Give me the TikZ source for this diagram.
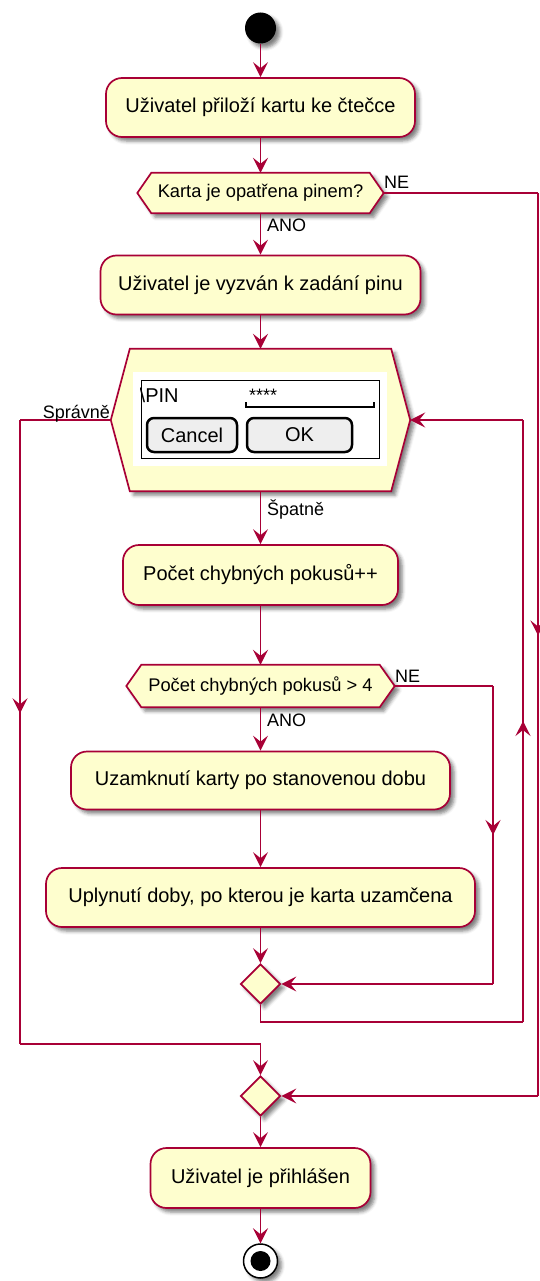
\documentclass[tikz,border=0pt]{standalone}
\usepackage{fontspec}
\setmainfont{Liberation Sans}
\usetikzlibrary{arrows.meta,shadows.blur,shapes.geometric,backgrounds,decorations.markings}
\definecolor{pborder}{HTML}{A80036}
\definecolor{pfill}{HTML}{FEFECE}
\definecolor{btngray}{HTML}{EEEEEE}
\tikzset{
  shad/.style={blur shadow={shadow xshift=4pt,shadow yshift=-4pt,shadow blur radius=3.5pt,shadow opacity=50}},
  act/.style={draw=pborder,fill=pfill,line width=1.7pt,rounded corners=16pt,inner sep=0pt,
    font=\fontsize{20}{24}\selectfont,shad},
  dec/.style={inner sep=0pt,font=\fontsize{18.3}{22}\selectfont},
  hexpath/.style={draw=pborder,fill=pfill,line width=1.7pt,line join=miter,shad},
  merge/.style={diamond,aspect=1,draw=pborder,fill=pfill,line width=1.7pt,inner sep=0pt,
    minimum width=40pt,minimum height=40pt,shad},
  flow/.style={color=pborder,line width=1.5pt},
  arr/.style={flow,-{Stealth[length=15pt,width=15pt,inset=6pt]}},
  midarrow/.style={postaction={decorate,decoration={markings,
    mark=at position #1 with {\arrow{Stealth[length=15pt,width=15pt,inset=6pt]}}}}},
  lbl/.style={inner sep=0pt,font=\fontsize{18}{21}\selectfont},
  btn/.style={draw=black,fill=btngray,line width=2.5pt,rounded corners=7pt,inner sep=0pt,
    font=\fontsize{20}{24}\selectfont},
}
\begin{document}
\begin{tikzpicture}[x=1pt,y=-1pt]
\useasboundingbox (0,0) rectangle (540,1281);
\def\X{260.5}
% start
\node[circle,fill=black,minimum size=31pt,inner sep=0pt,shad] (start) at (\X,28) {};
% actions
\node[act,minimum width=309pt,minimum height=59pt] (b1) at (\X,107.5) {Uživatel přiloží kartu ke čtečce};
\node[dec,minimum width=246pt,minimum height=40pt] (d1) at (\X,193) {Karta je opatřena pinem?};
\node[act,minimum width=320pt,minimum height=59pt] (b2) at (\X,285) {Uživatel je vyzván k zadání pinu};
\node[inner sep=0pt,minimum width=299pt,minimum height=142pt] (pin) at (\X,420) {};
\node[act,minimum width=275pt,minimum height=60pt] (b3) at (\X,575) {Počet chybných pokusů++};
\node[dec,minimum width=268pt,minimum height=42pt] (d2) at (\X,686) {Počet chybných pokusů > 4};
\node[act,minimum width=379pt,minimum height=58pt] (b4) at (\X,780.5) {Uzamknutí karty po stanovenou dobu};
\node[act,minimum width=429pt,minimum height=59pt] (b5) at (\X,897.5) {Uplynutí doby, po kterou je karta uzamčena};
\node[merge] (m1) at (\X,984) {};
\node[merge] (m2) at (\X,1096) {};
\node[act,minimum width=220pt,minimum height=60pt] (b6) at (\X,1178) {Uživatel je přihlášen};
\node[circle,draw=black,fill=white,line width=1.5pt,minimum size=34pt,inner sep=0pt,shad] (end) at (\X,1261) {};
\node[circle,fill=black,minimum size=20pt,inner sep=0pt] (endin) at (end) {};
% hexagons
\begin{scope}[on background layer]
\draw[hexpath] (d1.west) -- ([xshift=14pt]d1.north west) -- ([xshift=-14pt]d1.north east) -- (d1.east)
  -- ([xshift=-14pt]d1.south east) -- ([xshift=14pt]d1.south west) -- cycle;
\draw[hexpath] (d2.west) -- ([xshift=15pt]d2.north west) -- ([xshift=-15pt]d2.north east) -- (d2.east)
  -- ([xshift=-15pt]d2.south east) -- ([xshift=15pt]d2.south west) -- cycle;
\draw[hexpath] (pin.west) -- ([xshift=19pt]pin.north west) -- ([xshift=-19pt]pin.north east) -- (pin.east)
  -- ([xshift=-19pt]pin.south east) -- ([xshift=19pt]pin.south west) -- cycle;
\end{scope}
% salt form inside
\node[fill=white,inner sep=0pt,minimum width=254pt,minimum height=94pt] (panel) at (260,419) {};
\node[draw=black,line width=1pt,inner sep=0pt,minimum width=238pt,minimum height=78pt] (form) at (260,419) {};
\begin{scope}
\clip (form.south west) rectangle (form.north east);
\node[anchor=base west,inner sep=0pt,font=\fontsize{20}{24}\selectfont] (pinlbl) at (139.5,402) {\textbackslash PIN};
\end{scope}
\node[anchor=base west,inner sep=0pt,font=\fontsize{18}{22}\selectfont] (stars) at (249,401) {****};
\draw[line width=1.3pt] (246,402) -- (246,407) -- (374,407) -- (374,402);
\node[btn,minimum width=90pt,minimum height=34pt] (cancel) at (192,435) {Cancel};
\node[btn,minimum width=105pt,minimum height=34pt] (ok) at (299.5,435) {OK};
% corner coordinates
\coordinate (ne1a) at (538,193);
\coordinate (ne1b) at (538,1096);
\coordinate (ne2a) at (493,686);
\coordinate (ne2b) at (493,984);
\coordinate (lpA) at (\X,1022);
\coordinate (lpB) at (523,1022);
\coordinate (lpC) at (523,420);
\coordinate (lfA) at (20,420);
\coordinate (lfB) at (20,1044);
\coordinate (lfC) at (\X,1044);
% connectors
\draw[arr] (start) -- (b1);
\draw[arr] (b1) -- (d1);
\draw[arr] (d1) -- (b2);
\draw[arr] (b2) -- (pin);
\draw[arr] (pin) -- (b3);
\draw[arr] (b3) -- (d2);
\draw[arr] (d2) -- (b4);
\draw[arr] (b4) -- (b5);
\draw[arr] (b5) -- (m1);
\draw[arr] (m2) -- (b6);
\draw[arr] (b6) -- (end);
% NE from d1
\draw[flow] (d1.east) -- (ne1a);
\draw[flow,midarrow=0.49] (ne1a) -- (ne1b);
\draw[arr] (ne1b) -- (m2.east);
% NE from d2
\draw[flow] (d2.east) -- (ne2a);
\draw[flow,midarrow=0.5] (ne2a) -- (ne2b);
\draw[arr] (ne2b) -- (m1.east);
% loop back
\draw[flow] (m1.south) -- (lpA) -- (lpB);
\draw[flow,midarrow=0.5] (lpB) -- (lpC);
\draw[arr] (lpC) -- (pin.east);
% spravne
\draw[flow] (pin.west) -- (lfA);
\draw[flow,midarrow=0.47] (lfA) -- (lfB);
\draw[flow] (lfB) -- (lfC);
\draw[arr] (lfC) -- (m2.north);
% labels
\node[lbl,anchor=base west] (lne1) at (384,189) {NE};
\node[lbl,anchor=base west] (lano1) at (267,232) {ANO};
\node[lbl,anchor=base east] (lspr) at (110,418) {Správně};
\node[lbl,anchor=base west] (lspa) at (267,515) {Špatně};
\node[lbl,anchor=base west] (lne2) at (395,682) {NE};
\node[lbl,anchor=base west] (lano2) at (267,726) {ANO};
\end{tikzpicture}
\end{document}
